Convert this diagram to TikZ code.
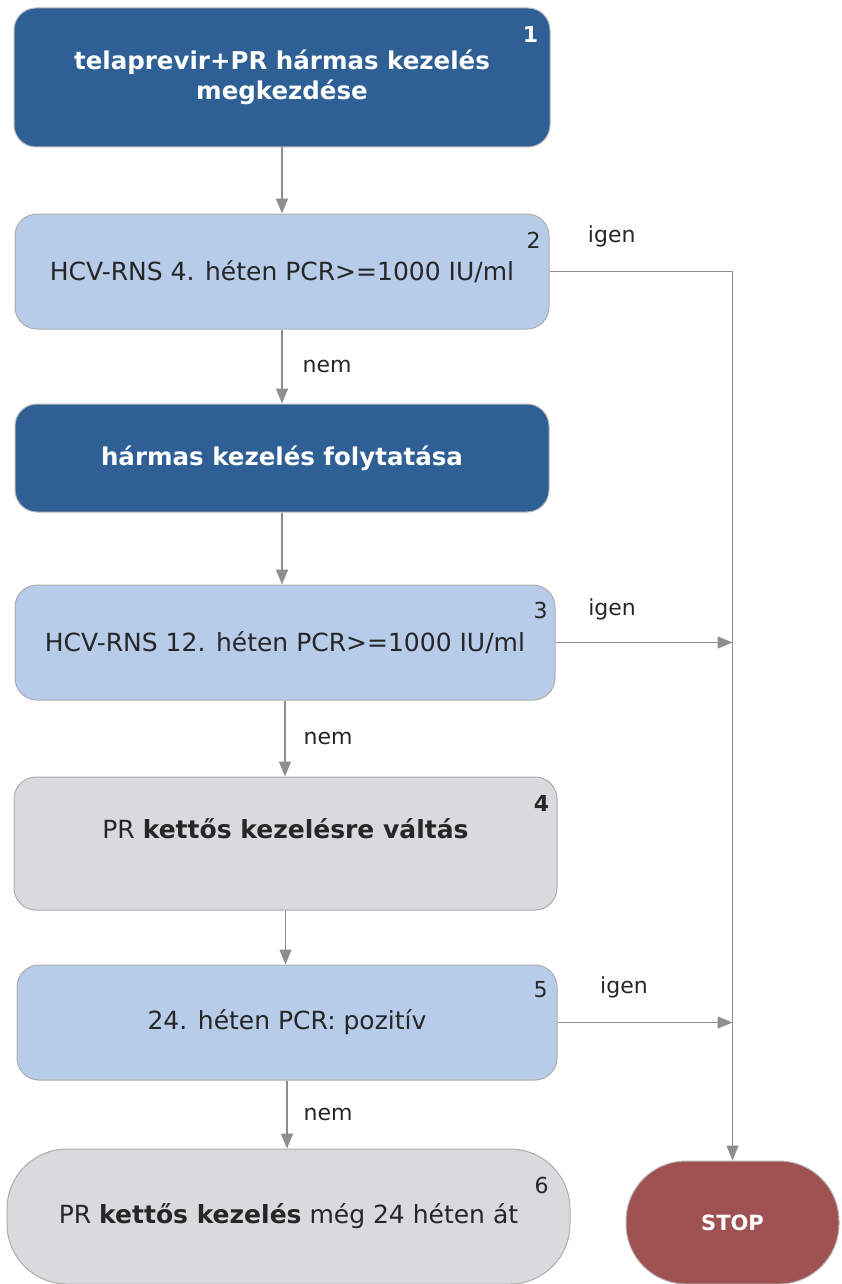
\documentclass[tikz,border=0pt]{standalone}
\usepackage{fontspec}
\setmainfont{DejaVu Sans}
\usetikzlibrary{positioning, arrows.meta, calc}
\definecolor{stepdark}{HTML}{2E5F95}
\definecolor{steplight}{HTML}{B6CCE8}
\definecolor{stepgray}{HTML}{D9DADD}
\definecolor{stopred}{HTML}{A05252}
\definecolor{linegray}{HTML}{8E8E90}

\begin{document}
\begin{tikzpicture}[x=1pt, y=-1pt,
  dark/.style={draw=gray!55, rounded corners=22pt, fill=stepdark, text=white, line width=1pt,
               minimum width=536pt, align=center, font=\fontsize{24.5}{30}\selectfont\bfseries},
  light/.style={draw=gray!65, rounded corners=22pt, fill=steplight, text=black!85, line width=1pt,
                minimum width=534pt, minimum height=115pt, align=center, font=\fontsize{25}{30}\selectfont},
  grey/.style={light, fill=stepgray},
  stopbox/.style={draw=gray!55, rounded corners=60pt, fill=stopred, text=white, line width=1pt,
                  minimum width=213pt, minimum height=123pt, font=\fontsize{21}{25}\selectfont\bfseries},
  num/.style={font=\fontsize{22}{26}\selectfont, text=black!85, inner sep=0pt},
  arr/.style={-{Triangle[length=15pt, width=12pt]}, line width=1.4pt, draw=linegray},
  lbl/.style={font=\fontsize{22}{26}\selectfont, text=black!85, inner sep=0pt},
]
\useasboundingbox (0,0) rectangle (841,1284);

% Main column
\node[dark, minimum height=139pt] (m1) at (282,77.5)
  {telaprevir+PR hármas kezelés\\megkezdése};
\node[light, below=66pt of m1] (m2) {HCV-RNS 4. héten PCR>=1000 IU/ml};
\node[dark, minimum width=534pt, minimum height=108pt, below=74pt of m2] (m3)
  {hármas kezelés folytatása};
\node[light, minimum width=540pt, below=72pt of m3, xshift=3pt] (m4)
  {HCV-RNS 12. héten PCR>=1000 IU/ml};
\node[grey, minimum width=543pt, minimum height=133pt, below=76pt of m4, xshift=0.5pt,
      text depth=30pt] (m5) {PR \textbf{kettős kezelésre váltás}};
\node[light, minimum width=540pt, below=54pt of m5, xshift=1.5pt] (m6) {24. héten PCR: pozitív};
\node[grey, rounded corners=60pt, minimum width=563pt, minimum height=135pt,
      below=68pt of m6, xshift=1.5pt] (m7) {PR \textbf{kettős kezelés} még 24 héten át};

% Stop
\node[stopbox, right=55pt of m7, yshift=-6pt] (stop) {STOP};

% Step numbers
\node[num, text=white, font=\fontsize{22}{26}\selectfont\bfseries] (n1) at ($(m1.north east)+(-20,27)$) {1};
\node[num] (n2) at ($(m2.north east)+(-16,27)$) {2};
\node[num] (n3) at ($(m4.north east)+(-15,26)$) {3};
\node[num, font=\fontsize{22}{26}\selectfont\bfseries] (n4) at ($(m5.north east)+(-16,27)$) {4};
\node[num] (n5) at ($(m6.north east)+(-17,25)$) {5};
\node[num] (n6) at ($(m7.north east)+(-29,37)$) {6};

% Connectors
\coordinate (j2) at (stop.north |- m4.east);
\coordinate (j3) at (stop.north |- m6.east);
\draw[arr] (m1.south) -- (m2.north);
\draw[arr] (m2.south) -- node[lbl, right=20pt] {nem} (m3.north);
\draw[arr] (m3.south) -- (m3.south |- m4.north);
\draw[arr] (m4.south) -- node[lbl, right=18pt] {nem} (m4.south |- m5.north);
\draw[arr] (m5.south) -- (m5.south |- m6.north);
\draw[arr] (m6.south) -- node[lbl, right=16pt] {nem} (m6.south |- m7.north);
\draw[arr] (m2.east) -- node[lbl, pos=0.34, above=24pt] {igen} (j2 |- m2.east) -- (stop.north);
\draw[arr] (m4.east) -- node[lbl, pos=0.32, above=22pt] {igen} (j2);
\draw[arr] (m6.east) -- node[lbl, pos=0.38, above=24pt] {igen} (j3);

\end{tikzpicture}
\end{document}
